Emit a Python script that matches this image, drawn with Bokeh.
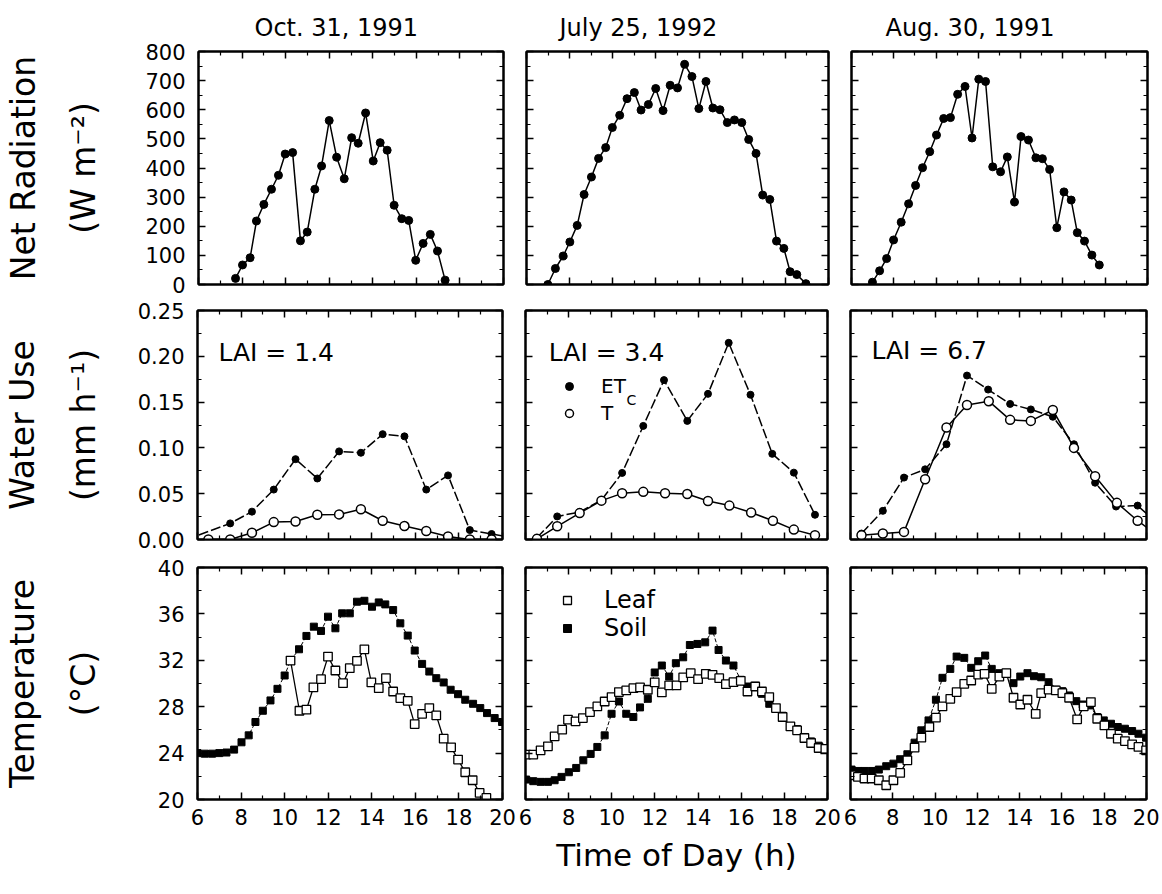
from bokeh.plotting import figure
from bokeh.models import (Range1d, LinearAxis, FixedTicker, NumeralTickFormatter,
                          Label, Legend, LegendItem)
from bokeh.layouts import column, row
from bokeh.embed import file_html
from bokeh.resources import INLINE

FONT = "DejaVu Sans"

# ---------------- data ----------------
dates = ["Oct. 31, 1991", "July 25, 1992", "Aug. 30, 1991"]
lai_labels = ["LAI = 1.4", "LAI = 3.4", "LAI = 6.7"]
hour_ticks = [6, 8, 10, 12, 14, 16, 18, 20]
hour_minor = [7, 9, 11, 13, 15, 17, 19]

# Net radiation (W m-2)
nr1_x = [7.70, 8.02, 8.37, 8.66, 9.00, 9.35, 9.67, 9.98, 10.32, 10.68, 10.99, 11.34, 11.65, 12.00, 12.34,
         12.69, 13.03, 13.33, 13.67, 14.02, 14.34, 14.66, 14.98, 15.33, 15.65, 15.97, 16.31, 16.64, 16.97, 17.32]
nr1_y = [21, 67, 92, 218, 275, 327, 375, 448, 453, 150, 180, 327, 407, 563, 437,
         363, 504, 485, 589, 424, 487, 461, 272, 226, 220, 83, 141, 172, 115, 15]
nr2_x = [6.99, 7.34, 7.70, 8.01, 8.35, 8.67, 9.01, 9.34, 9.67, 9.98, 10.32, 10.66, 11.00, 11.31, 11.65,
         11.99, 12.33, 12.66, 13.00, 13.33, 13.67, 13.99, 14.32, 14.64, 14.97, 15.31, 15.64, 15.98, 16.30,
         16.64, 16.95, 17.28, 17.59, 17.93, 18.22, 18.53, 18.95]
nr2_y = [0, 55, 98, 146, 203, 309, 369, 433, 470, 539, 581, 638, 659, 599, 618,
         673, 597, 684, 675, 756, 714, 604, 697, 606, 600, 556, 565, 556, 498,
         450, 307, 292, 149, 124, 44, 34, 3]
nr3_x = [6.99, 7.33, 7.66, 7.99, 8.35, 8.70, 9.03, 9.36, 9.70, 10.02, 10.36, 10.68, 11.02, 11.37, 11.70,
         12.02, 12.34, 12.68, 13.05, 13.37, 13.71, 14.02, 14.37, 14.72, 15.03, 15.37, 15.71, 16.05, 16.39,
         16.68, 17.02, 17.37, 17.72]
nr3_y = [8, 47, 89, 153, 214, 277, 340, 401, 456, 513, 570, 573, 653, 680, 503,
         705, 697, 404, 387, 438, 283, 508, 496, 435, 432, 395, 195, 318, 290,
         178, 149, 101, 67]

# Water use (mm h-1): ETc and T
et1_x = [5.5, 7.5, 8.5, 9.5, 10.5, 11.5, 12.5, 13.5, 14.5, 15.5, 16.5, 17.5, 18.5, 19.5, 20.5]
et1_y = [0.0, 0.0176, 0.0304, 0.0545, 0.0877, 0.0666, 0.0962, 0.0947, 0.115, 0.1126, 0.0545, 0.070,
         0.0103, 0.006, 0.002]
tr1_x = [6.5, 7.5, 8.5, 9.5, 10.5, 11.5, 12.5, 13.5, 14.5, 15.5, 16.5, 17.5, 18.5, 19.5]
tr1_y = [0.0, 0.0, 0.0073, 0.019, 0.0197, 0.027, 0.0274, 0.033, 0.0205, 0.0147, 0.0092, 0.0033, 0.0, 0.0]

et2_x = [6.53, 7.47, 8.51, 9.52, 10.48, 11.46, 12.42, 13.50, 14.46, 15.42, 16.43, 17.44, 18.44, 19.42]
et2_y = [0.0018, 0.0252, 0.030, 0.043, 0.0727, 0.124, 0.174, 0.1295, 0.159, 0.2147, 0.158, 0.0935,
         0.073, 0.027]
tr2_x = [6.53, 7.47, 8.51, 9.52, 10.48, 11.46, 12.47, 13.50, 14.46, 15.45, 16.46, 17.47, 18.44, 19.42]
tr2_y = [0.0007, 0.0144, 0.0288, 0.0424, 0.0504, 0.052, 0.0504, 0.0496, 0.042, 0.037, 0.0295, 0.0205,
         0.0108, 0.0047]

et3_x = [6.52, 7.53, 8.53, 9.53, 10.54, 11.51, 12.51, 13.55, 14.53, 15.57, 16.57, 17.57, 18.56, 19.58, 20.5]
et3_y = [0.0065, 0.0313, 0.0676, 0.0766, 0.104, 0.179, 0.1637, 0.148, 0.142, 0.134, 0.104, 0.062,
         0.036, 0.037, 0.018]
tr3_x = [6.52, 7.53, 8.53, 9.53, 10.54, 11.51, 12.54, 13.55, 14.53, 15.57, 16.57, 17.57, 18.6, 19.58, 20.5]
tr3_y = [0.0047, 0.0065, 0.0083, 0.0658, 0.1223, 0.1468, 0.151, 0.1306, 0.1295, 0.1414, 0.100, 0.069,
         0.040, 0.0205, 0.005]

# Temperature (deg C): soil and leaf
soil1_x = [6.0, 6.33, 6.67, 7.0, 7.33, 7.68, 8.02, 8.35, 8.66, 9.0, 9.35, 9.67, 10.0, 10.27, 10.66, 11.0,
           11.34, 11.67, 11.99, 12.33, 12.64, 12.99, 13.32, 13.66, 14.01, 14.32, 14.62, 14.98, 15.31,
           15.65, 15.97, 16.31, 16.64, 16.96, 17.30, 17.62, 17.96, 18.29, 18.65, 18.98, 19.29, 19.64, 19.98]
soil1_y = [24.0, 23.95, 23.95, 24.0, 24.05, 24.3, 24.93, 25.53, 26.68, 27.65, 28.54, 29.54, 30.69, 31.98,
           32.95, 34.10, 34.90, 34.53, 35.76, 34.76, 36.05, 36.05, 37.05, 37.13, 36.62, 36.99, 36.82,
           36.33, 35.19, 34.13, 32.84, 31.69, 31.03, 30.46, 30.09, 29.46, 29.08, 28.60, 28.25, 27.88,
           27.45, 27.02, 26.68]
leaf1_x = [10.27, 10.68, 11.0, 11.32, 11.67, 11.99, 12.33, 12.68, 12.99, 13.32, 13.66, 13.98, 14.32, 14.65,
           14.98, 15.31, 15.65, 15.97, 16.31, 16.64, 16.96, 17.30, 17.64, 17.96, 18.29, 18.63, 18.95, 19.26]
leaf1_y = [31.98, 27.65, 27.74, 29.66, 30.37, 32.32, 31.12, 30.03, 31.32, 31.95, 32.95, 30.09, 29.60, 30.46,
           29.31, 28.74, 28.51, 26.50, 27.39, 27.88, 27.25, 25.24, 24.50, 23.44, 22.35, 21.66, 20.57, 20.14]

leaf2_x = [6.03, 6.36, 6.70, 7.04, 7.35, 7.70, 7.97, 8.32, 8.66, 8.99, 9.33, 9.67, 9.99, 10.33, 10.67, 11.0,
           11.31, 11.67, 11.99, 12.32, 12.66, 13.0, 13.31, 13.66, 14.0, 14.36, 14.67, 14.98, 15.29, 15.64,
           15.98, 16.29, 16.65, 16.96, 17.30, 17.61, 17.92, 18.28, 18.59, 18.93, 19.24, 19.59, 19.90]
leaf2_y = [23.87, 23.87, 24.24, 24.58, 25.44, 26.02, 26.88, 26.73, 27.02, 27.54, 28.02, 28.45, 28.83, 29.26,
           29.40, 29.60, 29.66, 29.46, 30.09, 29.23, 29.83, 29.83, 30.52, 30.89, 30.37, 30.83, 30.75, 30.46,
           29.94, 30.11, 30.23, 29.31, 29.74, 29.31, 28.83, 27.88, 27.11, 26.30, 25.96, 25.30, 24.87, 24.44,
           24.36]
soil2_x = [6.03, 6.36, 6.70, 7.04, 7.35, 7.67, 8.01, 8.35, 8.68, 9.02, 9.33, 9.67, 9.99, 10.33, 10.67, 11.0,
           11.31, 11.67, 11.99, 12.32, 12.66, 12.97, 13.31, 13.62, 13.97, 14.33, 14.67, 14.95, 15.29, 15.64,
           15.98, 16.29, 16.65, 16.96, 17.30, 17.61, 17.92, 18.28, 18.59, 18.93, 19.24, 19.59, 19.96]
soil2_y = [21.72, 21.58, 21.52, 21.52, 21.66, 21.95, 22.35, 22.72, 23.38, 23.93, 24.53, 25.53, 27.39, 28.45,
           27.39, 27.11, 27.94, 28.68, 30.95, 31.55, 30.60, 31.75, 32.26, 33.32, 33.41, 33.55, 34.56, 32.89,
           31.98, 31.55, 30.32, 29.74, 29.80, 29.11, 28.25, 27.88, 27.22, 26.25, 26.07, 25.39, 25.01, 24.64,
           24.36]

soil3_x = [6.05, 6.35, 6.66, 7.0, 7.34, 7.69, 8.03, 8.35, 8.69, 9.03, 9.35, 9.69, 10.04, 10.35, 10.72, 11.02,
           11.38, 11.71, 12.04, 12.37, 12.68, 13.04, 13.37, 13.71, 14.03, 14.37, 14.68, 15.02, 15.37, 15.71,
           16.02, 16.34, 16.68, 16.98, 17.32, 17.67, 17.98, 18.32, 18.64, 18.98, 19.32, 19.62, 19.98]
soil3_y = [22.58, 22.46, 22.46, 22.46, 22.58, 22.87, 23.09, 23.47, 23.90, 24.90, 25.96, 26.82, 28.60, 30.49,
           31.26, 32.32, 32.21, 31.35, 31.92, 32.41, 31.26, 30.89, 30.92, 30.03, 30.60, 30.89, 30.63, 30.54,
           30.11, 29.46, 29.34, 28.97, 28.48, 28.19, 28.11, 27.11, 26.82, 26.53, 26.25, 26.10, 25.90, 25.67,
           25.33]
leaf3_x = [6.05, 6.35, 6.66, 7.0, 7.34, 7.69, 8.03, 8.35, 8.69, 9.03, 9.35, 9.73, 10.04, 10.35, 10.72, 11.02,
           11.38, 11.71, 12.04, 12.34, 12.68, 13.04, 13.37, 13.71, 14.03, 14.37, 14.76, 15.02, 15.37, 15.71,
           16.02, 16.34, 16.72, 17.03, 17.37, 17.67, 18.01, 18.32, 18.64, 18.98, 19.32, 19.62, 19.98]
leaf3_y = [22.09, 21.95, 21.81, 21.81, 21.66, 21.23, 21.66, 22.29, 23.38, 24.47, 25.33, 26.25, 27.05, 28.02,
           28.68, 29.26, 29.97, 30.26, 30.77, 30.83, 29.54, 30.60, 30.89, 28.77, 28.19, 28.60, 27.39, 29.17,
           29.48, 29.40, 29.17, 28.77, 26.91, 28.02, 28.40, 26.96, 26.39, 25.67, 25.24, 25.04, 24.76, 24.53,
           24.24]

y_label_texts = ["Net Radiation\n(W m\u207b\u00b2)", "Water Use\n(mm h\u207b\u00b9)", "Temperature\n(\u00b0C)"]
y_ranges = [(0, 800), (0, 0.25), (20, 40)]
y_major = [[0, 100, 200, 300, 400, 500, 600, 700, 800],
           [0, 0.05, 0.10, 0.15, 0.20, 0.25],
           [20, 24, 28, 32, 36, 40]]
y_minor = [[50, 150, 250, 350, 450, 550, 650, 750],
           [0.025, 0.075, 0.125, 0.175, 0.225],
           [22, 26, 30, 34, 38]]
y_formats = ["0", "0.00", "0"]

# ---------------- layout constants ----------------
col_frame_w = [305, 302, 296]
col_border_l = [184, 9, 9]
col_border_r = [14, 14, 13]
row_frame_h = [233, 229, 232]
row_border_t = [51, 13, 14]
row_border_b = [13, 14, 79]
ylabel_standoff = [39, 32, 52]
title_offsets = [56, 33, 34]


def style_axis(ax, labels):
    ax.axis_line_color = "black"
    ax.axis_line_width = 2
    ax.major_tick_line_color = "black"
    ax.minor_tick_line_color = "black"
    ax.major_tick_line_width = 1.5
    ax.minor_tick_line_width = 1.2
    ax.major_tick_in = 7
    ax.major_tick_out = 0
    ax.minor_tick_in = 4
    ax.minor_tick_out = 0
    ax.major_label_text_font = FONT
    if labels:
        ax.major_label_text_font_size = "21px"
        ax.major_label_text_color = "black"
    else:
        ax.major_label_text_font_size = "0px"
        ax.major_label_text_color = None
        ax.major_label_standoff = 0


def make_fig(r, c):
    p = figure(x_range=Range1d(6, 20), y_range=Range1d(*y_ranges[r]),
               frame_width=col_frame_w[c], frame_height=row_frame_h[r],
               min_border_left=col_border_l[c], min_border_right=col_border_r[c],
               min_border_top=row_border_t[r], min_border_bottom=row_border_b[r],
               x_axis_location=None, y_axis_location=None,
               toolbar_location=None, output_backend="svg",
               title=dates[c] if r == 0 else None)
    p.outline_line_color = "black"
    p.outline_line_width = 2
    p.background_fill_color = "white"
    p.border_fill_color = "white"
    for g in p.grid:
        g.visible = False

    xt = FixedTicker(ticks=hour_ticks, minor_ticks=hour_minor)
    yt = FixedTicker(ticks=y_major[r], minor_ticks=y_minor[r])
    fmt = NumeralTickFormatter(format=y_formats[r])

    bottom = LinearAxis(ticker=xt)
    style_axis(bottom, r == 2)
    top = LinearAxis(ticker=xt)
    style_axis(top, False)
    left = LinearAxis(ticker=yt, formatter=fmt)
    style_axis(left, c == 0)
    if c == 0:
        left.major_label_standoff = 13
        left.axis_label = y_label_texts[r]
        left.axis_label_text_font = FONT
        left.axis_label_text_font_size = "33px"
        left.axis_label_text_font_style = "normal"
        left.axis_label_text_color = "black"
        left.axis_label_text_line_height = 1.55
        left.axis_label_standoff = ylabel_standoff[r]
    if r == 2:
        bottom.major_label_standoff = 9
    if r == 2 and c == 1:
        bottom.axis_label = "Time of Day (h)"
        bottom.axis_label_text_font = FONT
        bottom.axis_label_text_font_size = "31px"
        bottom.axis_label_text_font_style = "normal"
        bottom.axis_label_text_color = "black"
        bottom.axis_label_standoff = 9
    right = LinearAxis(ticker=yt, formatter=fmt)
    style_axis(right, False)
    p.add_layout(bottom, "below")
    p.add_layout(top, "above")
    p.add_layout(left, "left")
    p.add_layout(right, "right")

    if r == 0:
        p.title.text_font = FONT
        p.title.text_font_size = "24px"
        p.title.text_font_style = "normal"
        p.title.text_color = "black"
        p.title.align = "left"
        p.title.offset = title_offsets[c]
        p.title.standoff = 20
    return p


figs = [[make_fig(r, c) for c in range(3)] for r in range(3)]

# Net radiation row
for c, (xs, ys) in enumerate([(nr1_x, nr1_y), (nr2_x, nr2_y), (nr3_x, nr3_y)]):
    p = figs[0][c]
    p.line(xs, ys, line_color="black", line_width=1.5)
    p.scatter(xs, ys, marker="circle", size=8, fill_color="black", line_color="black")

# Water use row
water = [(et1_x, et1_y, tr1_x, tr1_y), (et2_x, et2_y, tr2_x, tr2_y), (et3_x, et3_y, tr3_x, tr3_y)]
lai_pos = [(6.96, 0.204), (7.08, 0.204), (6.99, 0.206)]
for c, (ex, ey, tx, ty) in enumerate(water):
    p = figs[1][c]
    p.line(ex, ey, line_color="black", line_width=1.5, line_dash="10 3")
    et_r = p.scatter(ex, ey, marker="circle", size=7, fill_color="black", line_color="black")
    p.line(tx, ty, line_color="black", line_width=1.5)
    t_r = p.scatter(tx, ty, marker="circle", size=9, fill_color="white", line_color="black", line_width=1.5)
    p.add_layout(Label(x=lai_pos[c][0], y=lai_pos[c][1], text=lai_labels[c], text_font=FONT,
                       text_font_size="25px", text_color="black", text_baseline="alphabetic"))
    if c == 1:
        leg = Legend(items=[LegendItem(label="ET", renderers=[et_r]), LegendItem(label="T", renderers=[t_r])],
                     location=(34, 114), border_line_color=None, background_fill_alpha=0,
                     label_text_font=FONT, label_text_font_size="20px", label_text_color="black",
                     glyph_width=20, glyph_height=20,
                     label_standoff=22, padding=0, margin=0, spacing=3)
        p.add_layout(leg)
        p.add_layout(Label(x=10.68, y=0.152, text="C", text_font=FONT, text_font_size="14px",
                           text_color="black", text_baseline="alphabetic"))

# Temperature row
temps = [(soil1_x, soil1_y, leaf1_x, leaf1_y), (soil2_x, soil2_y, leaf2_x, leaf2_y),
         (soil3_x, soil3_y, leaf3_x, leaf3_y)]
for c, (sx, sy, lx, ly) in enumerate(temps):
    p = figs[2][c]
    p.line(sx, sy, line_color="black", line_width=1, line_dash="4 2")
    s_r = p.scatter(sx, sy, marker="square", size=7, fill_color="black", line_color="black")
    p.line(lx, ly, line_color="black", line_width=1.3)
    l_r = p.scatter(lx, ly, marker="square", size=8.5, fill_color="white", line_color="black", line_width=1.3)
    if c == 1:
        leg = Legend(items=[LegendItem(label="Leaf", renderers=[l_r]), LegendItem(label="Soil", renderers=[s_r])],
                     location=(32, 157), border_line_color=None, background_fill_alpha=0,
                     label_text_font=FONT, label_text_font_size="24px", label_text_color="black",
                     glyph_width=20, glyph_height=20,
                     label_standoff=27, padding=0, margin=0, spacing=0)
        p.add_layout(leg)

layout = column(*[row(*figs[r]) for r in range(3)])
open("out.html", "w").write(file_html(layout, INLINE))
